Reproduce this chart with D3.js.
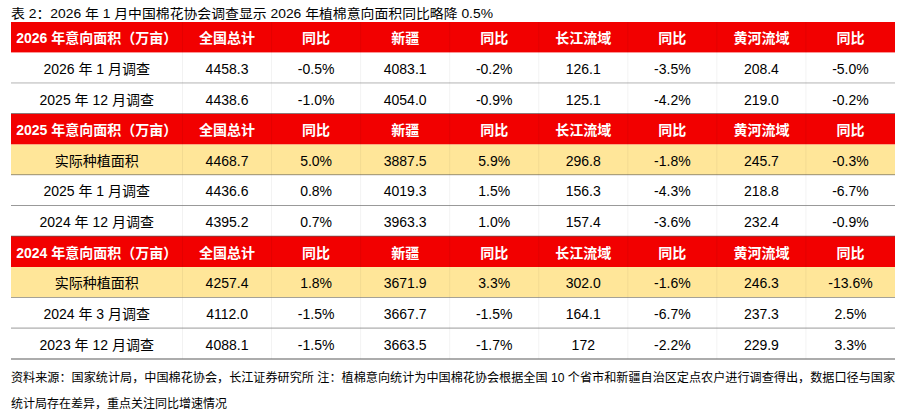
<!DOCTYPE html>
<html>
<head>
<meta charset="utf-8">
<script src="https://cdn.jsdelivr.net/npm/d3@7/dist/d3.min.js"></script>
<style>
  html, body { margin: 0; padding: 0; background: #fff; }
  svg { display: block; }
  text { font-family: "Liberation Sans", Arial, "Noto Sans CJK SC", sans-serif; }
</style>
</head>
<body>
<svg id="chart" width="901" height="413"></svg>
<script>
// ---- data ----
const titleText = "表 2：2026 年 1 月中国棉花协会调查显示 2026 年植棉意向面积同比略降 0.5%";
const columns = ["全国总计", "同比", "新疆", "同比", "长江流域", "同比", "黄河流域", "同比"];
const sectionTitles = ["2026 年意向面积（万亩）", "2025 年意向面积（万亩）", "2024 年意向面积（万亩）"];

const labels2026 = ["2026 年 1 月调查", "2025 年 12 月调查"];
const values2026 = [
  ["4458.3", "-0.5%", "4083.1", "-0.2%", "126.1", "-3.5%", "208.4", "-5.0%"],
  ["4438.6", "-1.0%", "4054.0", "-0.9%", "125.1", "-4.2%", "219.0", "-0.2%"]
];
const labels2025 = ["实际种植面积", "2025 年 1 月调查", "2024 年 12 月调查"];
const values2025 = [
  ["4468.7", "5.0%", "3887.5", "5.9%", "296.8", "-1.8%", "245.7", "-0.3%"],
  ["4436.6", "0.8%", "4019.3", "1.5%", "156.3", "-4.3%", "218.8", "-6.7%"],
  ["4395.2", "0.7%", "3963.3", "1.0%", "157.4", "-3.6%", "232.4", "-0.9%"]
];
const labels2024 = ["实际种植面积", "2024 年 3 月调查", "2023 年 12 月调查"];
const values2024 = [
  ["4257.4", "1.8%", "3671.9", "3.3%", "302.0", "-1.6%", "246.3", "-13.6%"],
  ["4112.0", "-1.5%", "3667.7", "-1.5%", "164.1", "-6.7%", "237.3", "2.5%"],
  ["4088.1", "-1.5%", "3663.5", "-1.7%", "172", "-2.2%", "229.9", "3.3%"]
];
const noteLine1 = "资料来源：国家统计局，中国棉花协会，长江证券研究所 注：植棉意向统计为中国棉花协会根据全国 10 个省市和新疆自治区定点农户进行调查得出，数据口径与国家";
const noteLine2 = "统计局存在差异，重点关注同比增速情况";

// ---- build rows ----
const sections = [
  { title: sectionTitles[0], labels: labels2026, values: values2026 },
  { title: sectionTitles[1], labels: labels2025, values: values2025 },
  { title: sectionTitles[2], labels: labels2024, values: values2024 }
];
const rows = [];
sections.forEach(s => {
  rows.push({ type: "header", label: s.title, cells: columns });
  s.labels.forEach((l, i) => {
    rows.push({ type: l === "实际种植面积" ? "actual" : "data", label: l, cells: s.values[i] });
  });
});

// ---- layout ----
const svg = d3.select("#chart");
const tLeft = 11, tRight = 895, firstColRight = 182.5;
const tTop = 22, tBottom = 359;

const yScale = d3.scaleBand().domain(d3.range(rows.length)).range([tTop, tBottom]).padding(0);
const xScale = d3.scaleBand().domain(d3.range(columns.length)).range([firstColRight, tRight]).padding(0);
const RED = "#f20000", YELLOW = "#ffe699";

// title
svg.append("text")
  .attr("x", tLeft).attr("y", 13)
  .attr("dominant-baseline", "central")
  .attr("font-size", 13).attr("fill", "#000")
  .attr("textLength", 482).attr("lengthAdjust", "spacingAndGlyphs")
  .text(titleText);

const g = svg.append("g");
const rowG = g.selectAll("g.row").data(rows).join("g")
  .attr("class", "row")
  .attr("transform", (d, i) => `translate(0,${yScale(i)})`);

rowG.append("rect")
  .attr("x", tLeft).attr("y", 0)
  .attr("width", tRight - tLeft).attr("height", yScale.bandwidth())
  .attr("fill", d => d.type === "header" ? RED : d.type === "actual" ? YELLOW : "#fff");

// faint vertical separators
rowG.each(function(d) {
  const sel = d3.select(this);
  const edges = [firstColRight].concat(d3.range(1, columns.length).map(i => xScale(i)));
  sel.selectAll("line.v").data(edges).join("line")
    .attr("class", "v")
    .attr("x1", e => e).attr("x2", e => e)
    .attr("y1", 0).attr("y2", yScale.bandwidth())
    .attr("stroke", d.type === "header" ? "#b00000" : "#000")
    .attr("stroke-opacity", d.type === "header" ? 0.22 : 0.05)
    .attr("stroke-width", 1);
});

// bottom border under data rows
rowG.filter(d => d.type !== "header").append("line")
  .attr("x1", tLeft).attr("x2", tRight)
  .attr("y1", yScale.bandwidth()).attr("y2", yScale.bandwidth())
  .attr("stroke", "#5a5a5a").attr("stroke-width", 1.2);

// label column
rowG.append("text")
  .attr("x", (tLeft + firstColRight) / 2)
  .attr("y", yScale.bandwidth() / 2 + 1)
  .attr("text-anchor", "middle")
  .attr("dominant-baseline", "central")
  .attr("font-size", 14)
  .attr("font-weight", d => d.type === "header" ? "bold" : "normal")
  .attr("fill", d => d.type === "header" ? "#fff" : "#000")
  .attr("font-family", d => d.type === "header" ? "'Noto Sans CJK SC', 'Liberation Sans', sans-serif" : null)
  .text(d => d.label);

// value cells
rowG.each(function(d) {
  d3.select(this).selectAll("text.cell").data(d.cells).join("text")
    .attr("class", "cell")
    .attr("x", (c, i) => xScale(i) + xScale.bandwidth() / 2)
    .attr("y", yScale.bandwidth() / 2 + 1)
    .attr("text-anchor", "middle")
    .attr("dominant-baseline", "central")
    .attr("font-size", 14)
    .attr("font-weight", d.type === "header" ? "bold" : "normal")
    .attr("fill", d.type === "header" ? "#fff" : "#000")
    .attr("font-family", d.type === "header" ? "'Noto Sans CJK SC', sans-serif" : null)
    .text(c => c);
});

// footnotes
svg.append("text")
  .attr("x", tLeft).attr("y", 378)
  .attr("dominant-baseline", "central")
  .attr("font-size", 12).attr("fill", "#000")
  .attr("textLength", tRight - tLeft).attr("lengthAdjust", "spacingAndGlyphs")
  .text(noteLine1);
svg.append("text")
  .attr("x", tLeft).attr("y", 404)
  .attr("dominant-baseline", "central")
  .attr("font-size", 12).attr("fill", "#000")
  .text(noteLine2);
</script>
</body>
</html>
